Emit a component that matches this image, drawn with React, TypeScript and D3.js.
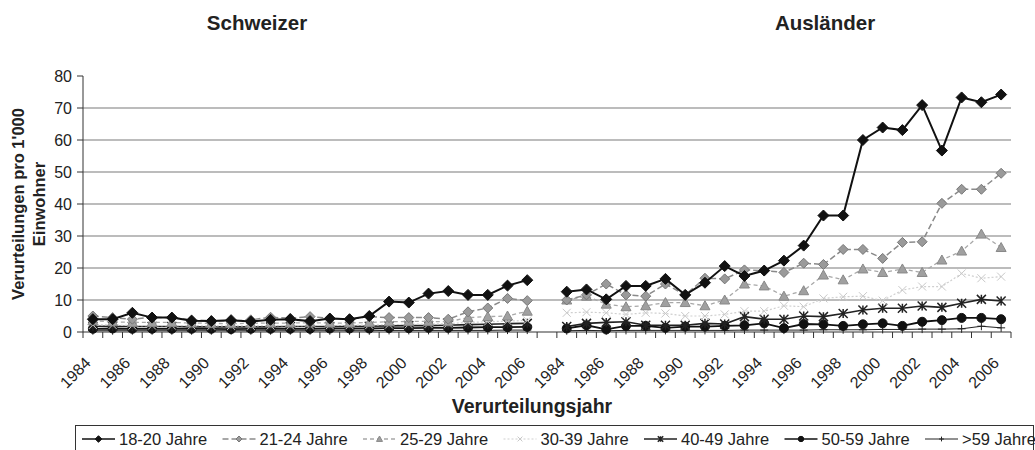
import React from 'react';
import * as d3 from 'd3';

const years = [1984, 1985, 1986, 1987, 1988, 1989, 1990, 1991, 1992, 1993, 1994, 1995, 1996, 1997, 1998, 1999, 2000, 2001, 2002, 2003, 2004, 2005, 2006];
const panelTitles = ['Schweizer', 'Ausländer'];
const seriesNames = ['18-20 Jahre', '21-24 Jahre', '25-29 Jahre', '30-39 Jahre', '40-49 Jahre', '50-59 Jahre', '>59 Jahre'];
const yTicks = [0, 10, 20, 30, 40, 50, 60, 70, 80];

// Schweizer
const ch1820 = [4.0, 4.0, 6.0, 4.5, 4.5, 3.5, 3.4, 3.7, 3.3, 3.8, 4.0, 3.4, 4.2, 4.0, 5.0, 9.5, 9.2, 12.0, 12.8, 11.6, 11.6, 14.5, 16.2];
const ch2124 = [5.0, 4.5, 4.0, 4.6, 4.5, 3.8, 3.5, 3.4, 3.8, 4.6, 4.3, 4.8, 4.3, 4.0, 4.8, 4.5, 4.5, 4.5, 4.0, 6.3, 7.5, 10.5, 9.8];
const ch2529 = [3.5, 3.2, 3.0, 3.0, 3.0, 2.8, 2.7, 2.6, 2.7, 2.8, 2.8, 2.9, 2.8, 2.8, 3.0, 3.2, 3.3, 3.3, 3.2, 4.5, 4.8, 5.0, 6.5];
const ch3039 = [2.2, 2.2, 2.0, 2.0, 2.0, 2.0, 1.9, 1.9, 1.9, 2.0, 2.0, 2.0, 2.1, 2.1, 2.2, 2.3, 2.4, 2.5, 2.6, 3.0, 3.2, 3.4, 3.6];
const ch4049 = [1.8, 1.8, 1.7, 1.7, 1.7, 1.6, 1.6, 1.6, 1.6, 1.6, 1.7, 1.7, 1.7, 1.8, 1.8, 1.9, 2.0, 2.0, 2.1, 2.3, 2.4, 2.6, 2.7];
const ch5059 = [1.0, 1.1, 1.0, 1.0, 1.0, 1.0, 1.0, 0.9, 1.0, 1.0, 1.0, 1.0, 1.1, 1.1, 1.1, 1.2, 1.2, 1.3, 1.3, 1.4, 1.5, 1.5, 1.6];
const ch59 = [0.4, 0.4, 0.4, 0.4, 0.4, 0.4, 0.4, 0.4, 0.4, 0.4, 0.4, 0.4, 0.4, 0.4, 0.4, 0.5, 0.5, 0.5, 0.5, 0.5, 0.5, 0.6, 0.6];

// Ausländer
const au1820 = [12.6, 13.3, 10.2, 14.4, 14.4, 16.6, 11.6, 15.4, 20.6, 17.5, 19.2, 22.3, 27.0, 36.4, 36.4, 60.0, 63.9, 63.1, 70.9, 56.7, 73.3, 71.8, 74.2];
const au2124 = [10.0, 11.6, 15.0, 11.6, 11.2, 15.0, 11.6, 16.8, 16.6, 19.4, 19.2, 18.6, 21.5, 21.1, 25.8, 25.8, 23.0, 28.0, 28.2, 40.2, 44.6, 44.6, 49.6];
const au2529 = [10.0, 11.2, 8.7, 7.9, 8.2, 9.2, 9.2, 8.2, 10.0, 15.0, 14.4, 11.2, 12.9, 17.8, 16.3, 19.7, 18.6, 19.7, 18.6, 22.5, 25.3, 30.6, 26.4];
const au3039 = [6.0, 6.2, 6.0, 5.5, 6.0, 5.8, 5.0, 5.0, 5.5, 6.5, 6.5, 8.2, 7.9, 10.5, 11.0, 11.2, 9.8, 13.1, 14.2, 14.2, 18.3, 16.8, 17.3];
const au4049 = [1.7, 2.7, 3.0, 3.2, 2.1, 2.1, 2.1, 2.7, 2.5, 4.8, 4.0, 4.0, 5.0, 4.8, 5.8, 6.9, 7.4, 7.4, 8.1, 7.7, 9.0, 10.2, 9.7];
const au5059 = [1.1, 2.1, 0.8, 1.9, 1.9, 1.3, 1.7, 1.7, 1.9, 2.1, 2.7, 1.2, 2.5, 2.4, 1.9, 2.4, 2.7, 1.9, 3.2, 3.7, 4.4, 4.4, 4.0];
const au59 = [0.4, 0.5, 0.4, 0.5, 0.5, 0.5, 0.5, 0.5, 0.5, 0.6, 0.6, 0.6, 0.6, 0.7, 0.7, 0.7, 0.8, 0.8, 0.9, 0.9, 1.0, 1.8, 1.3];

const chSeries = [ch1820, ch2124, ch2529, ch3039, ch4049, ch5059, ch59];
const auSeries = [au1820, au2124, au2529, au3039, au4049, au5059, au59];

type Style = { stroke: string; width: number; dash?: string; marker: string; mFill: string; mStroke: string; size: number };
const styles: Style[] = [
  { stroke: '#111', width: 2, marker: 'diamond', mFill: '#111', mStroke: '#111', size: 11 },
  { stroke: '#8a8a8a', width: 1.5, dash: '6,3', marker: 'diamond', mFill: '#9a9a9a', mStroke: '#777', size: 10 },
  { stroke: '#a8a8a8', width: 1.3, dash: '4,3', marker: 'triangle', mFill: '#a0a0a0', mStroke: '#888', size: 10 },
  { stroke: '#cfcfcf', width: 1.2, dash: '2,2', marker: 'x', mFill: 'none', mStroke: '#c8c8c8', size: 8 },
  { stroke: '#222', width: 1.6, marker: 'star', mFill: 'none', mStroke: '#222', size: 9 },
  { stroke: '#111', width: 1.8, marker: 'circle', mFill: '#111', mStroke: '#111', size: 10 },
  { stroke: '#222', width: 1, marker: 'plus', mFill: 'none', mStroke: '#222', size: 8 },
];

const W = 1035;
const H = 450;
const FONT = 'Liberation Sans, Arial, sans-serif';

const categories = [...years.map((yr) => 'CH' + yr), 'gap', ...years.map((yr) => 'AU' + yr)];
const x = d3.scalePoint<string>().domain(categories).range([83, 1011]).padding(0.5);
const y = d3.scaleLinear().domain([0, 80]).range([332, 76]);
const step = x.step();

function Marker({ type, cx, cy, s, fill, stroke }: { type: string; cx: number; cy: number; s: number; fill: string; stroke: string }) {
  const h = s / 2;
  if (type === 'diamond') {
    return <path d={`M${cx},${cy - h}L${cx + h},${cy}L${cx},${cy + h}L${cx - h},${cy}Z`} fill={fill} stroke={stroke} strokeWidth={1} />;
  }
  if (type === 'triangle') {
    return <path d={`M${cx},${cy - h}L${cx + h},${cy + h * 0.8}L${cx - h},${cy + h * 0.8}Z`} fill={fill} stroke={stroke} strokeWidth={1} />;
  }
  if (type === 'circle') {
    return <circle cx={cx} cy={cy} r={h * 0.9} fill={fill} stroke={stroke} strokeWidth={1} />;
  }
  if (type === 'x') {
    return <path d={`M${cx - h},${cy - h}L${cx + h},${cy + h}M${cx - h},${cy + h}L${cx + h},${cy - h}`} stroke={stroke} strokeWidth={1} fill="none" />;
  }
  if (type === 'star') {
    return (
      <path
        d={`M${cx - h},${cy - h}L${cx + h},${cy + h}M${cx - h},${cy + h}L${cx + h},${cy - h}M${cx},${cy - h}L${cx},${cy + h}`}
        stroke={stroke}
        strokeWidth={1.5}
        fill="none"
      />
    );
  }
  return <path d={`M${cx - h},${cy}L${cx + h},${cy}M${cx},${cy - h}L${cx},${cy + h}`} stroke={stroke} strokeWidth={1} fill="none" />;
}

export default function App() {
  const panels = [
    { prefix: 'CH', data: chSeries },
    { prefix: 'AU', data: auSeries },
  ];

  const tickBoundaries = d3.range(categories.length + 1).map((i) => 83 + i * step);
  const legendTextX = (i: number) => 119 + i * 140.5;

  return (
    <svg width={W} height={H} style={{ position: 'absolute', left: 0, top: 0, background: '#fff' }} fontFamily={FONT}>
      <rect x={0} y={0} width={W} height={H} fill="#fff" />
      {/* titles */}
      <text x={257} y={30} textAnchor="middle" fontWeight="bold" fontSize={20.5} fill="#222">{panelTitles[0]}</text>
      <text x={825} y={30} textAnchor="middle" fontWeight="bold" fontSize={20.5} fill="#222">{panelTitles[1]}</text>

      {/* gridlines */}
      {yTicks.filter((t) => t > 0 && t < 80).map((t) => (
        <line key={'g' + t} x1={83} x2={1011} y1={y(t)} y2={y(t)} stroke="#7a7a7a" strokeWidth={1.2} />
      ))}

      {/* y axis */}
      <line x1={83} x2={83} y1={y(80)} y2={y(0)} stroke="#333" strokeWidth={1} />
      {yTicks.map((t) => (
        <g key={'yt' + t}>
          <line x1={77} x2={83} y1={y(t)} y2={y(t)} stroke="#333" />
          <text x={72} y={y(t)} dy="0.35em" textAnchor="end" fontSize={16} fill="#222">{t}</text>
        </g>
      ))}

      {/* x axis */}
      <line x1={83} x2={1011} y1={y(0)} y2={y(0)} stroke="#333" strokeWidth={1.2} />
      {tickBoundaries.map((bx, i) => (
        <line key={'xt' + i} x1={bx} x2={bx} y1={y(0)} y2={y(0) + 6} stroke="#333" />
      ))}
      {panels.map((p) =>
        years.map((yr, i) =>
          i % 2 === 0 ? (
            <text
              key={p.prefix + 'l' + yr}
              transform={`translate(${(x(p.prefix + yr) as number) - 1},${y(0) + 32}) rotate(-45)`}
              textAnchor="end"
              fontSize={16}
              fill="#222"
            >
              {yr}
            </text>
          ) : null
        )
      )}

      {/* axis titles */}
      <text transform={`translate(24,${(y(0) + y(80)) / 2}) rotate(-90)`} textAnchor="middle" fontWeight="bold" fontSize={16.5} fill="#222">
        Verurteilungen pro 1'000
      </text>
      <text transform={`translate(45,${(y(0) + y(80)) / 2}) rotate(-90)`} textAnchor="middle" fontWeight="bold" fontSize={16.5} fill="#222">
        Einwohner
      </text>
      <text x={532} y={413} textAnchor="middle" fontWeight="bold" fontSize={19.5} fill="#222">Verurteilungsjahr</text>

      {/* series, drawn from back (oldest age) to front */}
      {panels.map((p) =>
        d3.range(6, -1, -1).map((si) => {
          const st = styles[si];
          const vals = p.data[si];
          const gen = d3
            .line<number>()
            .x((_, i) => x(p.prefix + years[i]) as number)
            .y((d) => y(d));
          return (
            <g key={p.prefix + 's' + si}>
              <path d={gen(vals) || ''} fill="none" stroke={st.stroke} strokeWidth={st.width} strokeDasharray={st.dash} />
              {vals.map((v, i) => (
                <Marker key={i} type={st.marker} cx={x(p.prefix + years[i]) as number} cy={y(v)} s={st.size} fill={st.mFill} stroke={st.mStroke} />
              ))}
            </g>
          );
        })
      )}

      {/* legend */}
      <rect x={75.5} y={425.5} width={958} height={40} fill="none" stroke="#333" strokeWidth={1} />
      {seriesNames.map((name, i) => {
        const st = styles[i];
        const tx = legendTextX(i);
        const x1 = tx - 37;
        const x2 = tx - 4;
        return (
          <g key={'lg' + i}>
            <line x1={x1} x2={x2} y1={439} y2={439} stroke={st.stroke} strokeWidth={Math.min(st.width, 1.5)} strokeDasharray={st.dash} />
            <Marker type={st.marker} cx={(x1 + x2) / 2} cy={439} s={st.size * 0.6} fill={st.mFill} stroke={st.mStroke} />
            <text x={tx} y={445} fontSize={16.5} fill="#222">{name}</text>
          </g>
        );
      })}
    </svg>
  );
}
